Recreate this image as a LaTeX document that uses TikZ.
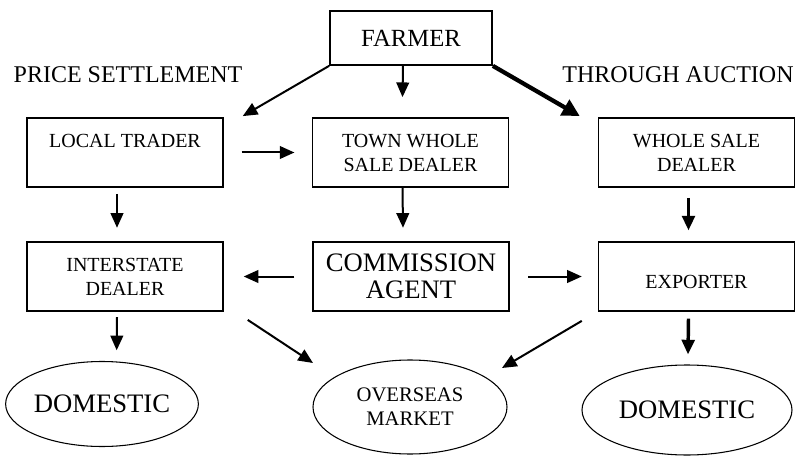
\documentclass[tikz,border=0pt]{standalone}
\usepackage{fontspec}
\setmainfont{Liberation Serif}
\usetikzlibrary{%
  arrows.meta,%
  shapes,%
  positioning,%
  calc
}

\begin{document}
\begin{tikzpicture}[
  x=0.75pt, y=-0.75pt,
  >={Triangle[length=11pt,width=9.5pt]}, line width=1.5pt,
  flowbox/.style={rectangle, draw=black, line width=1.1pt, inner sep=0pt, minimum width=147pt, minimum height=52pt, align=center, font=\fontsize{15}{18}\selectfont},
  bigbox/.style={flowbox, font=\fontsize{20}{20.5}\selectfont},
  market/.style={ellipse, draw=black, line width=0.8pt, inner sep=0pt, align=center},
  heading/.style={font=\fontsize{18}{20}\selectfont}
]
\useasboundingbox (0,0) rectangle (807,456);

\node[rectangle, draw=black, line width=1.3pt, minimum width=121.5pt, minimum height=40.5pt, font=\fontsize{18.5}{20}\selectfont] (farmer) at (411,38) {FARMER};

\node[heading] (price) at (128,75) {PRICE SETTLEMENT};
\node[heading] (auction) at (678,75) {THROUGH AUCTION};

\node[flowbox] (ltrader) at (125,152.5) {LOCAL TRADER\\\mbox{}};
\node[flowbox] (twsdealer) at (410.5,152.5) {TOWN WHOLE\\SALE DEALER};
\node[flowbox] (wsdealer) at (696.5,152.5) {WHOLE SALE\\DEALER};

\node[flowbox] (isdealer) at (125,276.5) {INTERSTATE\\DEALER};
\node[bigbox] (cagent) at (411,276.5) {COMMISSION\\AGENT};
\node[flowbox] (exporter) at (696.5,276.5) {\mbox{}\\EXPORTER};

\node[market, minimum width=142.5pt, minimum height=63.75pt, font=\fontsize{20}{22}\selectfont] (domleft) at (102,404) {DOMESTIC};
\node[market, minimum width=145.5pt, minimum height=70.5pt, font=\fontsize{15.5}{18}\selectfont] (overseas) at (410,407) {OVERSEAS\\MARKET};
\node[market, minimum width=157.5pt, minimum height=67.5pt, font=\fontsize{20}{22}\selectfont] (domright) at (687,410) {DOMESTIC};

% from the farmer
\draw[->] (farmer.south west) -- ([shift={(19,-1)}]ltrader.north east);
\draw[->] ([xshift=-6pt]farmer.south) -- ([xshift=-6pt,yshift=15pt]twsdealer.north);
\draw[->, line width=3.2pt, >={Triangle[length=13pt,width=13pt]}] (farmer.south east) -- ([shift={(-18,-1)}]wsdealer.north west);

\draw[->, shorten <=13.5pt, shorten >=13pt] (ltrader) -- (twsdealer);

% down the columns
\draw[->] ([xshift=-6pt,yshift=-4.5pt]ltrader.south) -- ([xshift=-6pt,yshift=10pt]isdealer.north);
\draw[->] ([xshift=-6pt]twsdealer.south) -- ([xshift=-6pt,yshift=10pt]cagent.north);
\draw[->, line width=2.6pt] ([xshift=-6pt,yshift=-7.5pt]wsdealer.south) -- ([xshift=-6pt,yshift=8pt]exporter.north);

\draw[->, shorten <=13.5pt, shorten >=15pt] (cagent) -- (isdealer);
\draw[->, shorten <=14pt, shorten >=12pt] (cagent) -- (exporter);

\draw[->] ([xshift=-6pt,yshift=-4pt]isdealer.south) -- ([xshift=11pt,yshift=8pt]domleft.north);
\draw[->, line width=2.6pt] ([xshift=-6pt,yshift=-5pt]exporter.south) -- ([xshift=0.75pt,yshift=7.5pt]domright.north);

% to the overseas market
\draw[->] ([shift={(24,8)}]isdealer.south east) -- ([shift={(-97,-44)}]overseas.center);
\draw[->] ([shift={(-16,9)}]exporter.south west) -- ([shift={(92,-39)}]overseas.center);

\end{tikzpicture}
\end{document}
